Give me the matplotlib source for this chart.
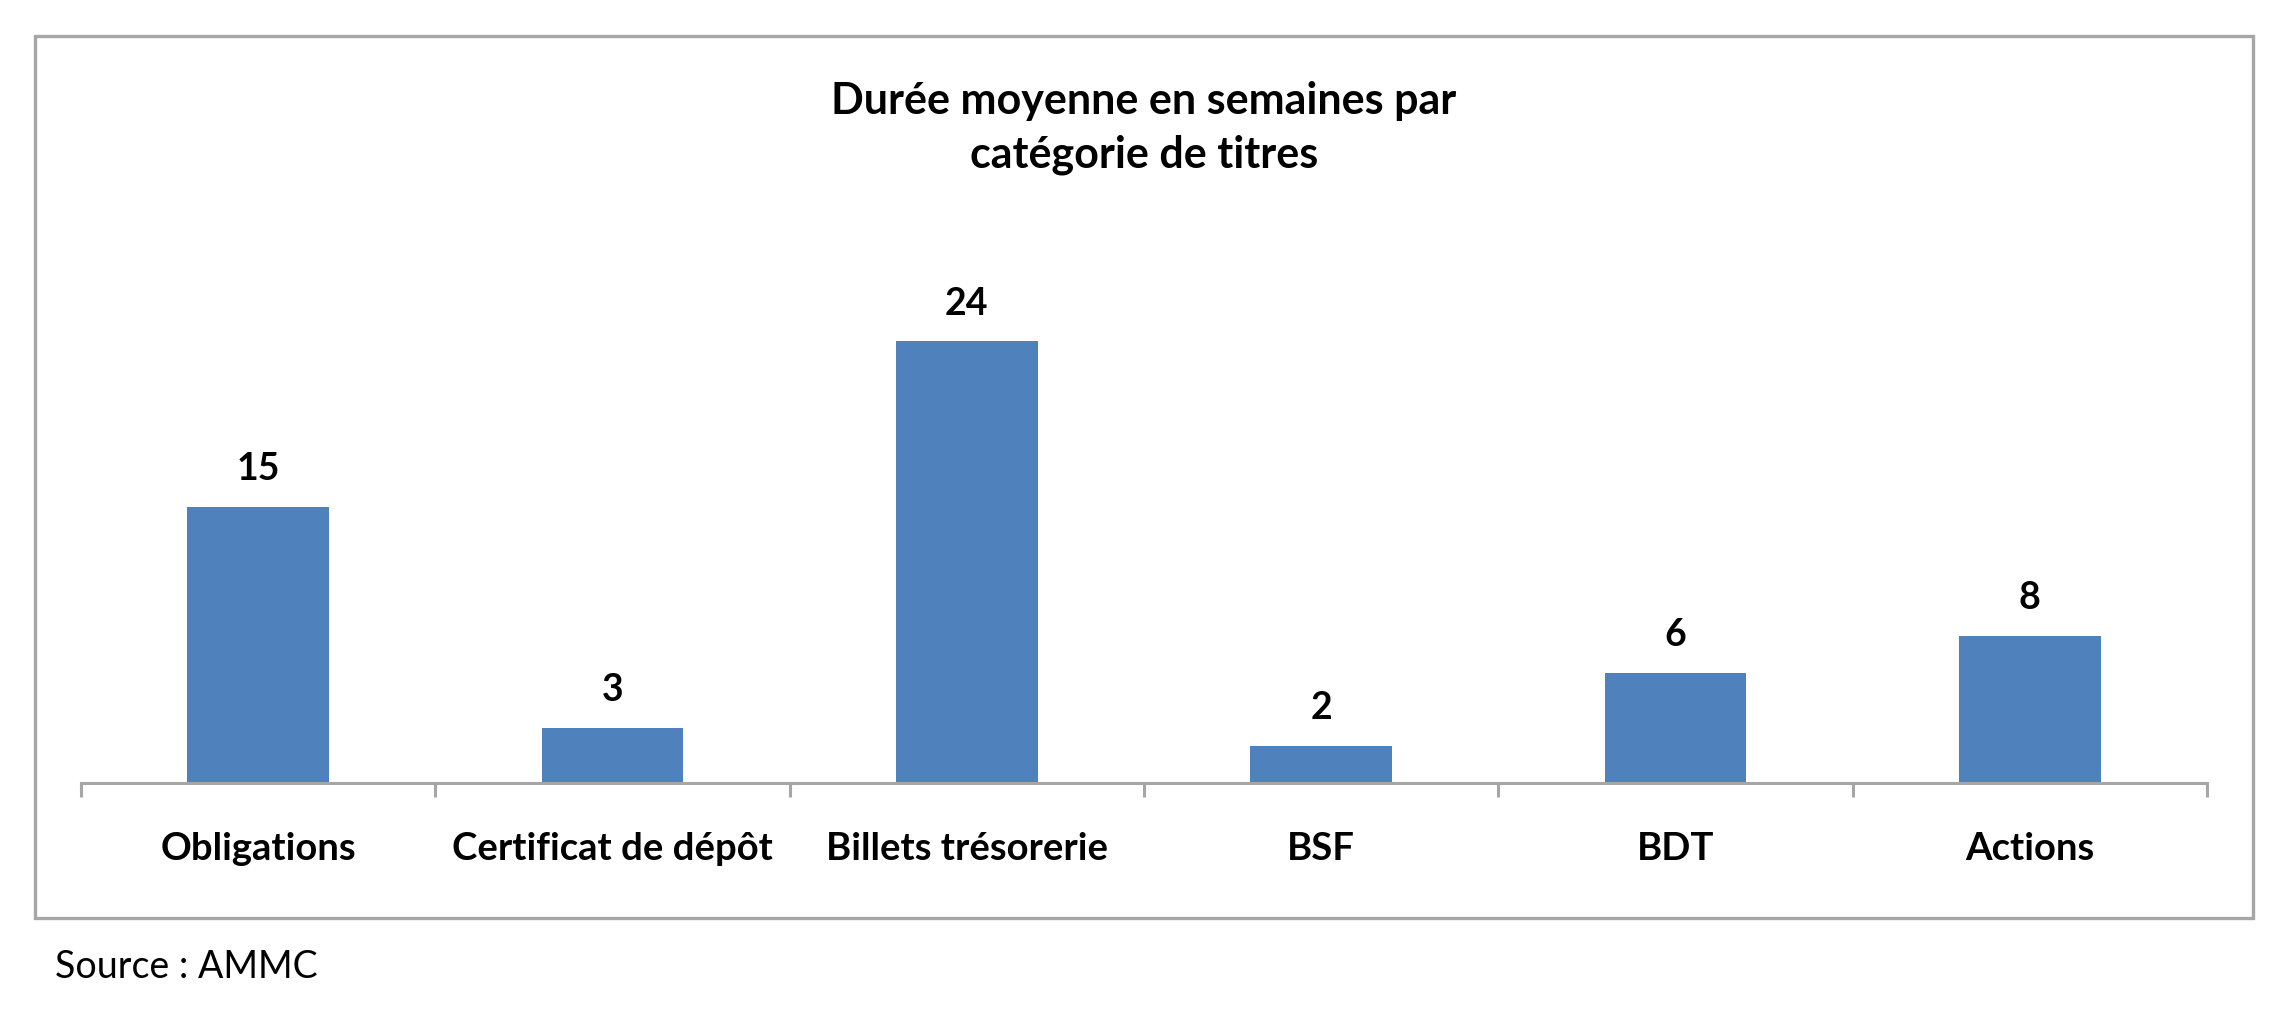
import matplotlib
matplotlib.use('Agg')
from matplotlib import pyplot as plt
from matplotlib.patches import Rectangle

categories = ['Obligations', 'Certificat de dépôt', 'Billets trésorerie', 'BSF', 'BDT', 'Actions']
weeks = [15, 3, 24, 2, 6, 8]

BAR_COLOR = '#4F81BD'
GREY = '#A6A6A6'
FONT = 'Lato'

fig = plt.figure(figsize=(22.8, 10.17), dpi=100)
W, H = 2280, 1017

# outer chart border
fig.patches.append(Rectangle((35 / W, 1 - 918 / H), (2253 - 35) / W, (918 - 36) / H,
                             transform=fig.transFigure, fill=False, edgecolor=GREY, linewidth=2.4))

ax = fig.add_axes([81 / W, 1 - 783 / H, (2207 - 81) / W, 552 / H])
x = list(range(len(categories)))
bars = ax.bar(x, weeks, width=0.4, color=BAR_COLOR, zorder=2)
ax.bar_label(bars, labels=[str(v) for v in weeks], padding=15,
             fontsize=27, fontweight='bold', family=FONT)

ax.set_xlim(-0.5, len(categories) - 0.5)
ax.set_ylim(0, 30)
for side in ['left', 'right', 'top']:
    ax.spines[side].set_visible(False)
ax.spines['bottom'].set_color(GREY)
ax.spines['bottom'].set_linewidth(2.2)
ax.set_yticks([])

ax.set_xticks(x)
ax.set_xticklabels(categories, fontsize=27.5, fontweight='bold', family=FONT)
ax.tick_params(axis='x', which='major', length=0, pad=35)
ax.set_xticks([i - 0.5 for i in range(len(categories) + 1)], minor=True)
ax.tick_params(axis='x', which='minor', length=10, width=2.2, color=GREY)

fig.text(1144 / W, 1 - 81 / H, 'Durée moyenne en semaines par\ncatégorie de titres',
         ha='center', va='top', fontsize=31, fontweight='bold', family=FONT, linespacing=1.4)

fig.text(55 / W, 1 - 978 / H, 'Source : AMMC', ha='left', va='baseline', fontsize=27, family=FONT)

fig.savefig('out.png', dpi=100)
